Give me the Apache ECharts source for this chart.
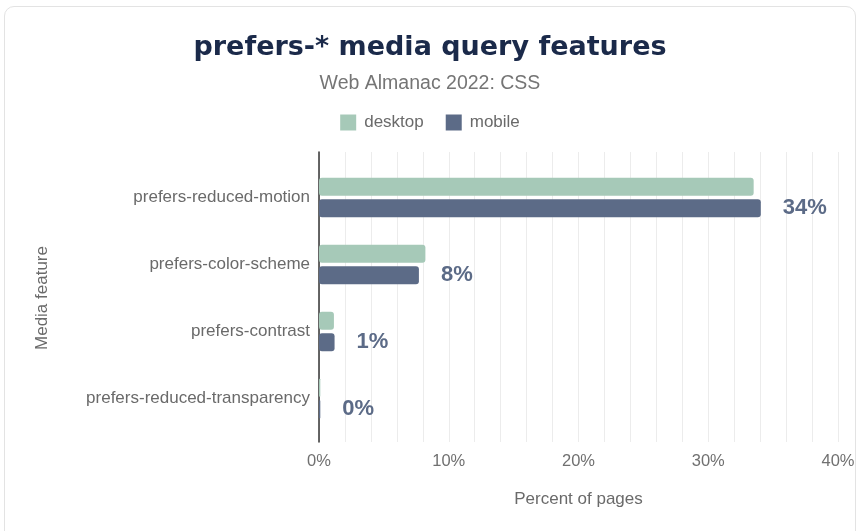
<!DOCTYPE html>
<html><head><meta charset="utf-8">
<script src="https://cdn.jsdelivr.net/npm/echarts@6/dist/echarts.min.js"></script>
<style>
html,body{margin:0;padding:0;background:#fff;}
#frame{position:absolute;left:4px;top:6px;width:852px;height:540px;border:1px solid #e3e3e3;border-radius:10px;box-sizing:border-box;}
#chart{position:absolute;left:0;top:0;width:860px;height:531px;}
</style></head>
<body>
<div id="frame"></div>
<div id="chart"></div>
<script>
const categories = ['prefers-reduced-motion','prefers-color-scheme','prefers-contrast','prefers-reduced-transparency'];
const desktop = [33.5, 8.2, 1.15, 0.1];
const mobile = [34.05, 7.7, 1.2, 0.1];
const mobileLabels = ['34%','8%','1%','0%'];
const xTicks = [0,10,20,30,40];

const chart = echarts.init(document.getElementById('chart'), null, {renderer:'canvas'});
const font = 'Liberation Sans, Arial, sans-serif';
chart.setOption({
  animation:false,
  textStyle:{fontFamily:font},
  title:[
    {text:'prefers-* media query features', left:'center', top:29,
     textStyle:{fontSize:27, fontWeight:'bold', color:'#1b2a4a', fontFamily:'DejaVu Sans, sans-serif'}},
    {text:'Web Almanac 2022: CSS', left:'center', top:69,
     textStyle:{fontSize:19.5, fontWeight:'normal', color:'#757575', fontFamily:font}}
  ],
  legend:{top:109, left:'center', itemWidth:16, itemHeight:16, itemGap:22,
    icon:'rect',
    textStyle:{fontSize:17, color:'#6a6a6a', fontFamily:font, padding:[0,0,0,3]},
    data:['desktop','mobile']},
  grid:[
    {left:319, right:22, top:164, bottom:99},
    {left:319, right:22, top:152, bottom:89}
  ],
  xAxis:[
    {type:'value', gridIndex:0, min:0, max:40, interval:2, show:false,
     splitLine:{show:false}},
    {type:'value', gridIndex:1, min:0, max:40, interval:2,
     name:'Percent of pages', nameLocation:'middle', nameGap:49,
     nameTextStyle:{fontSize:17, color:'#6a6a6a'},
     axisLine:{show:false}, axisTick:{show:false},
     axisLabel:{fontSize:16.5, color:'#707070', margin:11,
       formatter:function(v){return xTicks.indexOf(v)>=0 ? v+'%' : '';}},
     splitLine:{show:true, lineStyle:{color:'#ececec', width:1}}}
  ],
  yAxis:[
    {type:'category', gridIndex:0, data:categories, inverse:true,
     name:'Media feature', nameLocation:'middle', nameGap:268, nameRotate:90,
     nameTextStyle:{fontSize:17, color:'#6a6a6a'},
     axisLine:{show:false}, axisTick:{show:false},
     axisLabel:{fontSize:17, color:'#6a6a6a', margin:9}},
    {type:'value', gridIndex:1, min:0, max:1,
     axisLine:{show:true, lineStyle:{color:'#333', width:1.5}},
     axisTick:{show:false}, axisLabel:{show:false}, splitLine:{show:false}}
  ],
  series:[
    {name:'desktop', type:'bar', xAxisIndex:0, yAxisIndex:0, data:desktop, barWidth:18, barGap:'20%',
     itemStyle:{color:'#a6c9b8', borderRadius:3}},
    {name:'mobile', type:'bar', xAxisIndex:0, yAxisIndex:0, data:mobile, barWidth:18,
     itemStyle:{color:'#5c6b87', borderRadius:3},
     label:{show:true, position:'right', distance:22,
       formatter:function(p){return mobileLabels[p.dataIndex];},
       fontSize:22, fontWeight:'bold', color:'#5c6b87', fontFamily:font}}
  ]
});
</script>
</body></html>
